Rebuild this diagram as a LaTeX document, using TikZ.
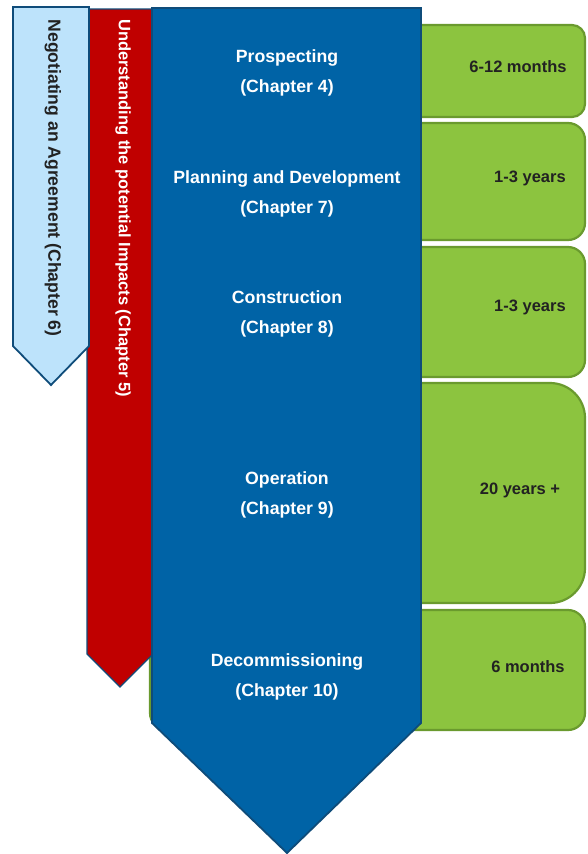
\documentclass[tikz,border=0pt]{standalone}
\usepackage{fontspec}
\setmainfont{Liberation Sans}
\definecolor{lblue}{HTML}{BDE3FB}
\definecolor{dblue}{HTML}{0F4C7A}
\definecolor{mblue}{HTML}{0063A6}
\definecolor{dred}{HTML}{C00000}
\definecolor{gfill}{HTML}{8CC43F}
\definecolor{gline}{HTML}{6A9A2E}
\definecolor{tdark}{HTML}{222222}
\tikzset{
  gbox/.style={fill=gfill, draw=gline, line width=2.2pt},
  gtext/.style={font=\bfseries\fontsize{16.5}{20}\selectfont, text=tdark},
  btext/.style={font=\bfseries\fontsize{17.7}{30}\selectfont, text=white, align=center},
  arrowshape/.style={draw=dblue, line width=1.8pt, line join=miter},
}
\begin{document}
\begin{tikzpicture}[x=1pt,y=-1pt]
\useasboundingbox (0,0) rectangle (587,854);
% green duration boxes
\draw[gbox, rounded corners=13] (150,25) rectangle (585,117);
\draw[gbox, rounded corners=17] (150,123) rectangle (585,240);
\draw[gbox, rounded corners=17] (150,247) rectangle (585,377);
\draw[gbox, rounded corners=35] (150,383) rectangle (585,603);
\draw[gbox, rounded corners=17] (150,610) rectangle (585,730);
\node[gtext] (d1) at (518,67) {6-12 months};
\node[gtext] (d2) at (530,178) {1-3 years};
\node[gtext] (d3) at (530,307) {1-3 years};
\node[gtext] (d4) at (520,490) {20 years +};
\node[gtext] (d5) at (528,667) {6 months};
% red arrow
\draw[arrowshape, fill=dred, line width=1.2pt] (87,9) -- (153,9) -- (153,654) -- (120,687) -- (87,654) -- cycle;
% light blue arrow
\draw[arrowshape, fill=lblue] (13,7) -- (89,7) -- (89,346) -- (51,385) -- (13,346) -- cycle;
% main blue arrow
\draw[arrowshape, fill=mblue] (152,8) -- (421,8) -- (421,723) -- (287,853) -- (152,723) -- cycle;
% texts
\node[btext] (p1) at (287,73) {Prospecting\\(Chapter 4)};
\node[btext] (p2) at (287,194) {Planning and Development\\(Chapter 7)};
\node[btext] (p3) at (287,314) {Construction\\(Chapter 8)};
\node[btext] (p4) at (287,495) {Operation\\(Chapter 9)};
\node[btext] (p5) at (287,677) {Decommissioning\\(Chapter 10)};
\node[rotate=-90, font=\bfseries\fontsize{17.6}{20}\selectfont, text=tdark] (neg) at (53,178) {Negotiating an Agreement (Chapter 6)};
\node[rotate=-90, font=\bfseries\fontsize{16.5}{20}\selectfont, text=white] (und) at (123,208) {Understanding the potential Impacts (Chapter 5)};
\end{tikzpicture}
\end{document}
